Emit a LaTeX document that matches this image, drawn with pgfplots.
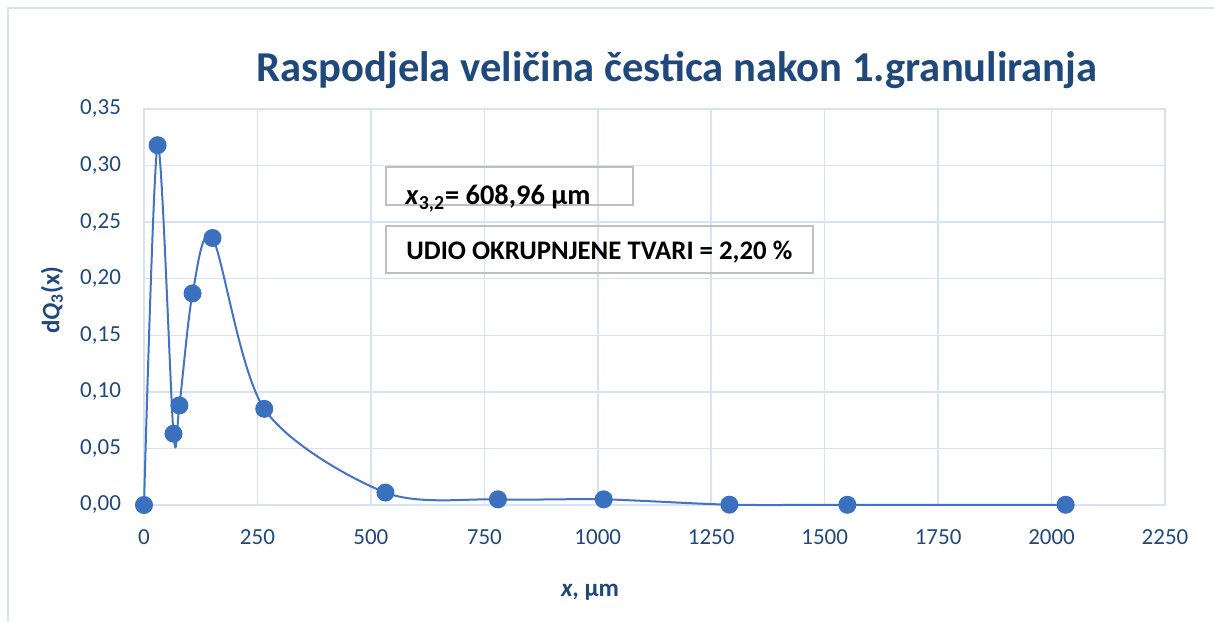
\documentclass[border=0pt]{standalone}
\usepackage{fontspec}
\setmainfont{Carlito}
\usepackage{pgfplots}
\pgfplotsset{compat=1.18}

\definecolor{tickblue}{RGB}{31,73,125}
\definecolor{gridblue}{RGB}{214,227,244}
\definecolor{lineblue}{RGB}{68,114,196}
\definecolor{markblue}{RGB}{58,113,190}
\definecolor{boxgray}{RGB}{191,191,191}

\begin{document}
\begin{tikzpicture}
% 1 px of the reference = 0.5pt
\path[use as bounding box] (-72pt,-58pt) rectangle (535pt,252.5pt);
\draw[gridblue, line width=1pt] (-68pt,-58pt) -- (-68pt,248.5pt) -- (535pt,248.5pt);

\begin{axis}[
  at={(0,0)}, anchor=south west,
  scale only axis, width=510.5pt, height=198pt,
  xmin=0, xmax=2250, ymin=0, ymax=0.35,
  xtick={0,250,500,750,1000,1250,1500,1750,2000,2250},
  ytick={0,0.05,0.10,0.15,0.20,0.25,0.30,0.35},
  grid=major, major grid style={gridblue, line width=0.75pt},
  axis line style={gridblue, line width=0.75pt},
  major tick length=0pt,
  ticklabel style={font=\fontsize{11.5}{13}\selectfont, text=tickblue},
  xticklabel style={yshift=-8.7pt},
  yticklabel style={xshift=-8pt},
  /pgf/number format/assume math mode=true,
  /pgf/number format/1000 sep={},
  yticklabel={\pgfmathprintnumber[fixed, fixed zerofill, precision=2, use comma]{\tick}},
  clip=false,
]
\addplot[lineblue, line width=1pt, smooth, tension=0.5,
  mark=*, mark size=4pt, mark options={draw=markblue, fill=markblue}]
  coordinates {
  (0,0)
  (30,0.318)
  (65,0.063)
  (78,0.088)
  (107,0.187)
  (151,0.236)
  (265,0.085)
  (532,0.011)
  (780,0.005)
  (1013,0.005)
  (1290,0.0003)
  (1550,0.0002)
  (2031,0.0002)
};
\end{axis}

\node[anchor=base, text=tickblue, font=\fontsize{21.3}{24}\selectfont\bfseries]
  at (266.5pt,211.5pt) {Raspodjela veličina čestica nakon 1.granuliranja};

\node[rotate=90, text=tickblue, font=\fontsize{12.5}{14}\selectfont\bfseries]
  at (-46pt,102.5pt) {d\textit{Q}\textsubscript{3}(x)};
\node[text=tickblue, font=\fontsize{12.5}{14}\selectfont\bfseries]
  at (223pt,-43.5pt) {\textit{x}, µm};

\draw[boxgray, line width=0.75pt] (121pt,150pt) rectangle (244.5pt,169pt);
\node[anchor=base west, inner sep=0pt, font=\fontsize{14.2}{16}\selectfont\bfseries]
  at (130.5pt,150pt) {\textit{x}\textsubscript{3,2}= 608,96 µm};

\draw[boxgray, line width=0.75pt] (121pt,116pt) rectangle (334.5pt,139.5pt);
\node[anchor=base west, inner sep=0pt, font=\fontsize{13.4}{15}\selectfont\bfseries]
  at (131pt,122.5pt) {UDIO OKRUPNJENE TVARI = 2,20 \%};
\end{tikzpicture}
\end{document}
